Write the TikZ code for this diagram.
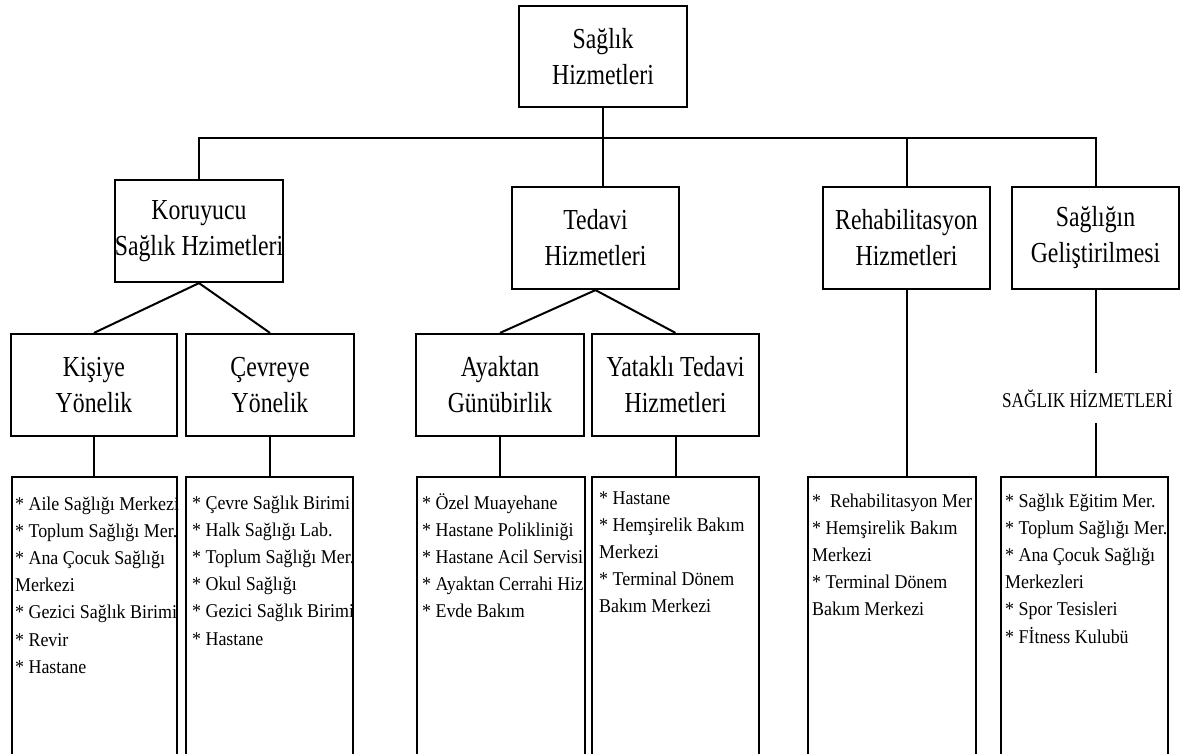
\documentclass[tikz,border=0pt]{standalone}
\usepackage{fontspec}
\setmainfont{Liberation Serif}
\newfontfamily\headfont[FakeStretch=0.82]{Liberation Serif}
\newfontfamily\listfont[FakeStretch=0.92]{Liberation Serif}
\usetikzlibrary{positioning,calc}

\tikzset{
  unitbox/.style={draw, line width=2.2pt, inner sep=0pt, align=center,
    minimum width=167pt, minimum height=102pt,
    font=\headfont\fontsize{29}{36}\selectfont},
  listbox/.style={draw, line width=2.2pt, inner sep=0pt, anchor=north,
    minimum height=330pt},
  listtext/.style={anchor=base west, inner sep=0pt,
    font=\listfont\fontsize{19.5}{27.2}\selectfont},
  link/.style={line width=2pt}
}

\begin{document}
\begin{tikzpicture}[x=1pt,y=-1pt]
    \useasboundingbox (0,0) rectangle (1190,753);
    \clip (0,0) rectangle (1190,753);

    % Main levels
    \node [unitbox, minimum width=168pt, minimum height=101pt] (root) at (603,56.5) {Sağlık\\Hizmetleri};
    \node [unitbox, minimum width=168pt] (kor) at (199,231) {Koruyucu\\Sağlık Hzimetleri};
    \node [unitbox] (ted) at (595.5,238) {Tedavi\\Hizmetleri};
    \node [unitbox] (reh) at (906.5,238) {Rehabilitasyon\\Hizmetleri};
    \node [unitbox] (gel) at (1095.5,238) {Sağlığın\\Geliştirilmesi};

    \node [unitbox, minimum width=166pt] (kis) at (94,385) {Kişiye\\Yönelik};
    \node [unitbox, minimum width=168pt] (cev) at (270,385) {Çevreye\\Yönelik};
    \node [unitbox, minimum width=168pt] (aya) at (500,385) {Ayaktan\\Günübirlik};
    \node [unitbox] (yat) at (675.5,385) {Yataklı Tedavi\\Hizmetleri};

    \node [font=\headfont\fontsize{21}{25}\selectfont, anchor=base, inner xsep=0pt, inner ysep=16pt] (sagLbl) at (1087.5,407) {SAĞLIK HİZMETLERİ};

    % Lists (open at the bottom)
    \node [listbox, minimum width=165pt] (kisL) at (94.5,476) {};
    \node [listbox, minimum width=167pt] (cevL) at (269.5,476) {};
    \node [listbox, minimum width=168pt] (ayaL) at (501,476) {};
    \node [listbox, minimum width=167pt] (yatL) at (675.5,476) {};
    \node [listbox, minimum width=168pt] (rehL) at (892,476) {};
    \node [listbox, minimum width=167pt] (gelL) at (1084.5,476) {};

    \begin{scope}
        \clip (kisL.north west) rectangle (kisL.south east);
        \node [listtext] (kisT) at ([xshift=4pt,yshift=-34pt]kisL.north west) {\begin{tabular}[t]{@{}l@{}}
            {*} Aile Sağlığı Merkezi\\{*} Toplum Sağlığı Mer.\\{*} Ana Çocuk Sağlığı\\Merkezi\\
            {*} Gezici Sağlık Birimi\\{*} Revir\\{*} Hastane\end{tabular}};
    \end{scope}
    \begin{scope}
        \clip (cevL.north west) rectangle (cevL.south east);
        \node [listtext] (cevT) at ([xshift=7pt,yshift=-33pt]cevL.north west) {\begin{tabular}[t]{@{}l@{}}
            {*} Çevre Sağlık Birimi\\{*} Halk Sağlığı Lab.\\{*} Toplum Sağlığı Mer.\\{*} Okul Sağlığı\\
            {*} Gezici Sağlık Birimi\\{*} Hastane\end{tabular}};
    \end{scope}
    \begin{scope}
        \clip (ayaL.north west) rectangle (ayaL.south east);
        \node [listtext] (ayaT) at ([xshift=6pt,yshift=-33pt]ayaL.north west) {\begin{tabular}[t]{@{}l@{}}
            {*} Özel Muayehane\\{*} Hastane Polikliniği\\{*} Hastane Acil Servisi\\
            {*} Ayaktan Cerrahi Hiz\\{*} Evde Bakım\end{tabular}};
    \end{scope}
    \begin{scope}
        \clip (yatL.north west) rectangle (yatL.south east);
        \node [listtext] (yatT) at ([xshift=8pt,yshift=-28pt]yatL.north west) {\begin{tabular}[t]{@{}l@{}}
            {*} Hastane\\{*} Hemşirelik Bakım\\Merkezi\\{*} Terminal Dönem\\Bakım Merkezi\end{tabular}};
    \end{scope}
    \begin{scope}
        \clip (rehL.north west) rectangle (rehL.south east);
        \node [listtext] (rehT) at ([xshift=5pt,yshift=-31pt]rehL.north west) {\begin{tabular}[t]{@{}l@{}}
            {*}\ \ Rehabilitasyon Mer\\{*} Hemşirelik Bakım\\Merkezi\\{*} Terminal Dönem\\Bakım Merkezi\end{tabular}};
    \end{scope}
    \begin{scope}
        \clip (gelL.north west) rectangle (gelL.south east);
        \node [listtext] (gelT) at ([xshift=5pt,yshift=-31pt]gelL.north west) {\begin{tabular}[t]{@{}l@{}}
            {*} Sağlık Eğitim Mer.\\{*} Toplum Sağlığı Mer.\\{*} Ana Çocuk Sağlığı\\Merkezleri\\
            {*} Spor Tesisleri\\{*} Fİtness Kulubü\end{tabular}};
    \end{scope}

    % Connectors
    \coordinate (bus) at (603,138);
    \draw [link] (root.south) -- (root.south |- ted.north);
    \draw [link] (kor.north) |- (bus) -| (gel.north);
    \draw [link] (reh.north) -- (reh.north |- bus);

    \draw [link] (kor.south) -- (kis.north);
    \draw [link] (kor.south) -- (cev.north);
    \draw [link] (ted.south) -- (aya.north);
    \draw [link] (ted.south) -- (yat.north);

    \draw [link] (kis.south) -- (kis.south |- kisL.north);
    \draw [link] (cev.south) -- (cev.south |- cevL.north);
    \draw [link] (aya.south) -- (aya.south |- ayaL.north);
    \draw [link] (yat.south) -- (yat.south |- yatL.north);
    \draw [link] (reh.south) -- (reh.south |- rehL.north);
    \draw [link] (gel.south) -- (gel.south |- sagLbl.north);
    \draw [link] (gel.south |- sagLbl.south) -- (gel.south |- gelL.north);
\end{tikzpicture}
\end{document}
